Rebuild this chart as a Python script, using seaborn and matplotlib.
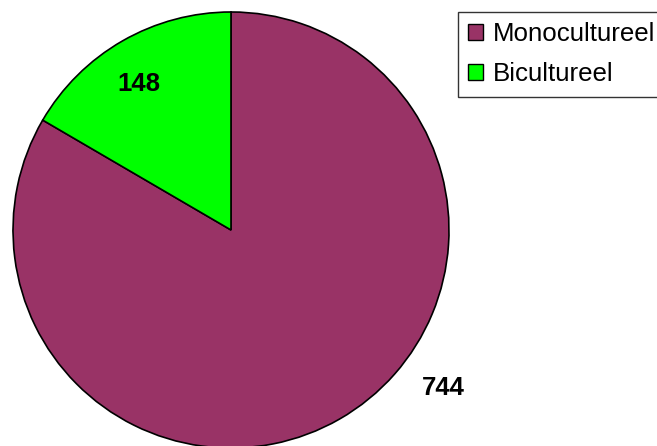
import matplotlib
matplotlib.use("Agg")
import matplotlib.pyplot as plt
import seaborn as sns
from matplotlib.patches import Patch

categories = ["Monocultureel", "Bicultureel"]
values = [744, 148]
colors = ["#993366", "#00FF00"]

sns.set_theme(style="white")
plt.rcParams['font.family'] = ['Liberation Sans', 'DejaVu Sans']
plt.rcParams['text.color'] = 'black'
plt.rcParams['legend.labelcolor'] = 'black'

fig = plt.figure(figsize=(6.57, 4.46), dpi=100)
ax = fig.add_axes([13/657, -2/446, 436/657, 436/446])
wedges, _ = ax.pie(values, colors=colors, startangle=90, counterclock=False,
                   radius=1.0, wedgeprops=dict(edgecolor="black", linewidth=1.2))
ax.set_xlim(-1, 1)
ax.set_ylim(-1, 1)
ax.set_aspect("equal")
ax.axis("off")

label_pos = [(0.972, -0.725), (-0.422, 0.670)]
for (x, y), v in zip(label_pos, values):
    ax.text(x, y, str(v), ha="center", va="center", fontsize=18.5, fontweight="bold", color="black")

handles = [Patch(facecolor=c, edgecolor="black", linewidth=1) for c in colors]
leg = fig.legend(handles, categories, loc="upper left",
                 bbox_to_anchor=(458/657, 1 - 12/446), bbox_transform=fig.transFigure,
                 fontsize=18.6, frameon=True, fancybox=False, borderaxespad=0,
                 handlelength=0.56, handleheight=0.56, handletextpad=0.4,
                 labelspacing=0.62, borderpad=0.4, labelcolor="black")
leg.get_frame().set_edgecolor("black")
leg.get_frame().set_linewidth(1)

fig.savefig("out.png", dpi=100)
